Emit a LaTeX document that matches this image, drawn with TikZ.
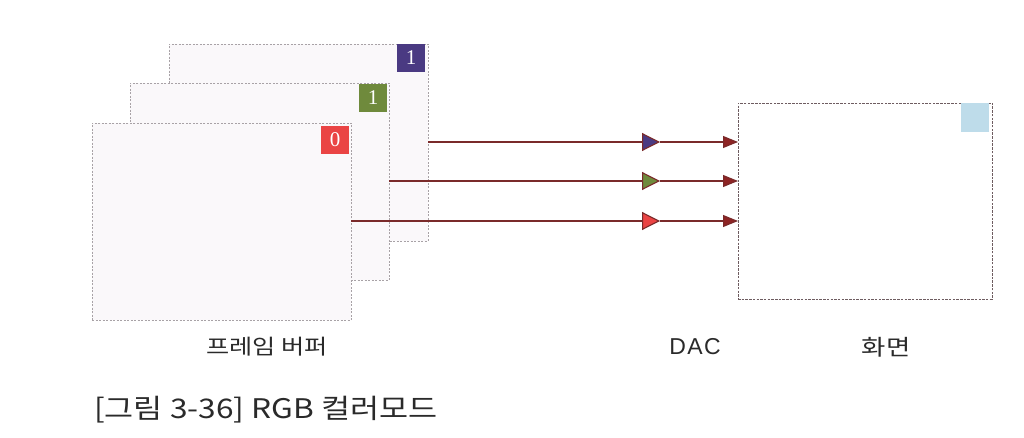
\documentclass[tikz,border=0pt]{standalone}
\usepackage{fontspec}
\setmainfont{Liberation Sans}
\newfontfamily\kr{Noto Sans CJK KR}[FakeStretch=1.2]
\newfontfamily\krcap{Noto Sans CJK KR}[FakeStretch=1.17]
\newfontfamily\wide{Liberation Sans}[LetterSpace=6]
\usetikzlibrary{arrows.meta}
\definecolor{framefill}{HTML}{FAF8FA}
\definecolor{frameline}{HTML}{A8A2A6}
\definecolor{bluebadge}{HTML}{4A3A82}
\definecolor{greenbadge}{HTML}{6F8A3C}
\definecolor{redbadge}{HTML}{EA4444}
\definecolor{screenbadge}{HTML}{BEDCEA}
\definecolor{wire}{HTML}{7A2A2A}
\definecolor{screenline}{HTML}{6E5C60}
\definecolor{txt}{HTML}{2A2A2A}
\begin{document}
\begin{tikzpicture}[x=1pt,y=-1pt,
  framebox/.style={draw=frameline, fill=framefill, dash pattern=on 2pt off 1.5pt, line width=0.6pt, inner sep=0pt, outer sep=0pt, anchor=north west, minimum width=259pt, minimum height=197pt},
  badge/.style={inner sep=0pt, outer sep=0pt, minimum width=28pt, minimum height=28pt, anchor=north east, text=white, font=\fontspec{Liberation Serif}\fontsize{21}{21}\selectfont},
  wireline/.style={draw=wire, line width=1.1pt},
  endtip/.style={-{Triangle[length=15pt,width=12pt,fill=wire!85!red]}},
  midtip/.style={-{Triangle[length=18pt,width=18pt,fill=#1]}},
  lbl/.style={text=txt, inner sep=0pt}
]
\useasboundingbox (0,0) rectangle (1024,438);
\fill[white] (0,0) rectangle (1024,438);
% frame buffers
\node[framebox] (fb) at (169,44) {};
\node[framebox] (fg) at (130,83) {};
\node[framebox] (fr) at (92,123) {};
% badges
\node[badge, fill=bluebadge] (bb) at ([xshift=-3pt]fb.north east) {1};
\node[badge, fill=greenbadge] (bg) at ([xshift=-2pt,yshift=-1pt]fg.north east) {1};
\node[badge, fill=redbadge] (br) at ([xshift=-2pt,yshift=-3pt]fr.north east) {0};
% screen
\node[draw=screenline, fill=white, dash pattern=on 2.5pt off 1.2pt, line width=0.7pt, inner sep=0pt, outer sep=0pt, anchor=north west, minimum width=254pt, minimum height=196pt] (scr) at (738,103) {};
\node[fill=screenbadge, inner sep=0pt, outer sep=0pt, minimum width=28pt, minimum height=29pt, anchor=north east] (sb) at ([xshift=-3pt]scr.north east) {};
% DAC points
\coordinate (dB) at (660,142);
\coordinate (dG) at (660,181);
\coordinate (dR) at (660,221);
% wires
\draw[wireline, midtip=bluebadge] (fb.east |- dB) -- (dB);
\draw[wireline, midtip=greenbadge] (fg.east |- dG) -- (dG);
\draw[wireline, midtip=redbadge] (fr.east |- dR) -- (dR);
\draw[wireline, endtip] (dB) -- (scr.west |- dB);
\draw[wireline, endtip] (dG) -- (scr.west |- dG);
\draw[wireline, endtip] (dR) -- (scr.west |- dR);
% labels
\node[lbl, font=\kr\fontsize{21}{21}\selectfont] (lfb) at (267,347) {프레임 버퍼};
\node[lbl, font=\wide\fontsize{23}{23}\selectfont] (ldac) at (695,347) {DAC};
\node[lbl, font=\kr\fontsize{22}{22}\selectfont] (lscr) at (886,347) {화면};
\node[lbl, anchor=west, font=\krcap\fontsize{27}{27}\selectfont] (cap) at (94,410) {[그림 3-36] RGB 컬러모드};
\end{tikzpicture}
\end{document}
